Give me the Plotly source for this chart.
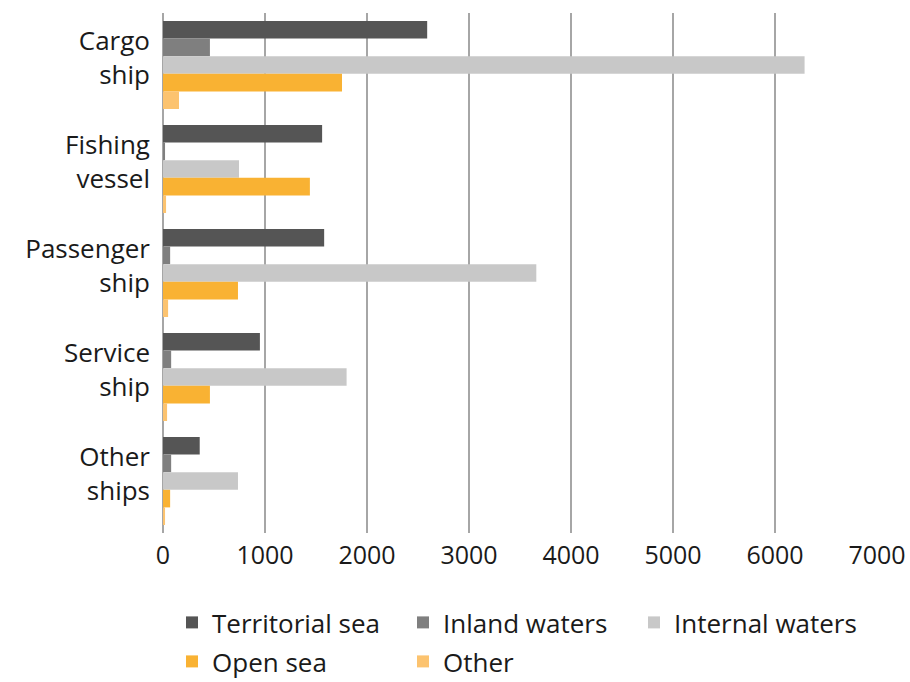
import plotly.graph_objects as go

categories = ["Cargo<br>ship", "Fishing<br>vessel", "Passenger<br>ship", "Service<br>ship", "Other<br>ships"]
series_names = ["Territorial sea", "Inland waters", "Internal waters", "Open sea", "Other"]
territorial_sea = [2590, 1560, 1580, 950, 360]
inland_waters = [460, 20, 70, 80, 80]
internal_waters = [6290, 745, 3660, 1800, 735]
open_sea = [1755, 1440, 735, 460, 70]
other = [157, 30, 50, 40, 20]
x_ticks = [0, 1000, 2000, 3000, 4000, 5000, 6000, 7000]

values = [territorial_sea, inland_waters, internal_waters, open_sea, other]
colors = ["#555555", "#7f7f7f", "#c8c8c8", "#f9b233", "#fcc36f"]
legend_ids = ["legend", "legend", "legend", "legend2", "legend2"]

FONT = "Open Sans"
fig = go.Figure()
for name, vals, col, lg in zip(series_names, values, colors, legend_ids):
    fig.add_trace(go.Bar(
        y=categories, x=vals, name=name, orientation="h",
        marker=dict(color=col, line=dict(width=0)),
        legend=lg,
    ))

legend_common = dict(
    orientation="h", xref="container", yref="container",
    xanchor="left", yanchor="top",
    entrywidth=186, entrywidthmode="pixels",
    font=dict(family=FONT, size=26, color="#1a1a1a"),
    traceorder="normal", itemclick=False, itemdoubleclick=False,
    bgcolor="rgba(0,0,0,0)",
)

fig.update_layout(
    width=910, height=682,
    margin=dict(l=163, r=33, t=13, b=149),
    barmode="group", bargap=0.154, bargroupgap=0,
    plot_bgcolor="white", paper_bgcolor="white",
    font=dict(family=FONT, size=25, color="#1a1a1a"),
    xaxis=dict(
        range=[0, 7000], tickvals=x_ticks, ticktext=[str(v) for v in x_ticks],
        showgrid=True, gridcolor="#a6a6a6", gridwidth=2,
        zeroline=True, zerolinecolor="#a6a6a6", zerolinewidth=2,
        showline=False, ticks="", ticklabelstandoff=5, automargin=False,
        tickfont=dict(family=FONT, size=25, color="#1a1a1a"),
    ),
    yaxis=dict(
        autorange="reversed", showgrid=False, zeroline=False, showline=False,
        ticks="", ticklabelstandoff=12, ticklabelshift=7, automargin=False,
        tickfont=dict(family=FONT, size=26, color="#1a1a1a"),
    ),
    legend=dict(legend_common, x=172/910, y=1 - 599/682),
    legend2=dict(legend_common, x=172/910, y=1 - 638/682),
    showlegend=True,
)

fig.write_html("out.html", config={"displayModeBar": False})
with open("out.html", "r", encoding="utf-8") as f:
    html = f.read()
html = html.replace("<body>", '<body style="margin:0;padding:0;overflow:hidden">', 1)
with open("out.html", "w", encoding="utf-8") as f:
    f.write(html)
